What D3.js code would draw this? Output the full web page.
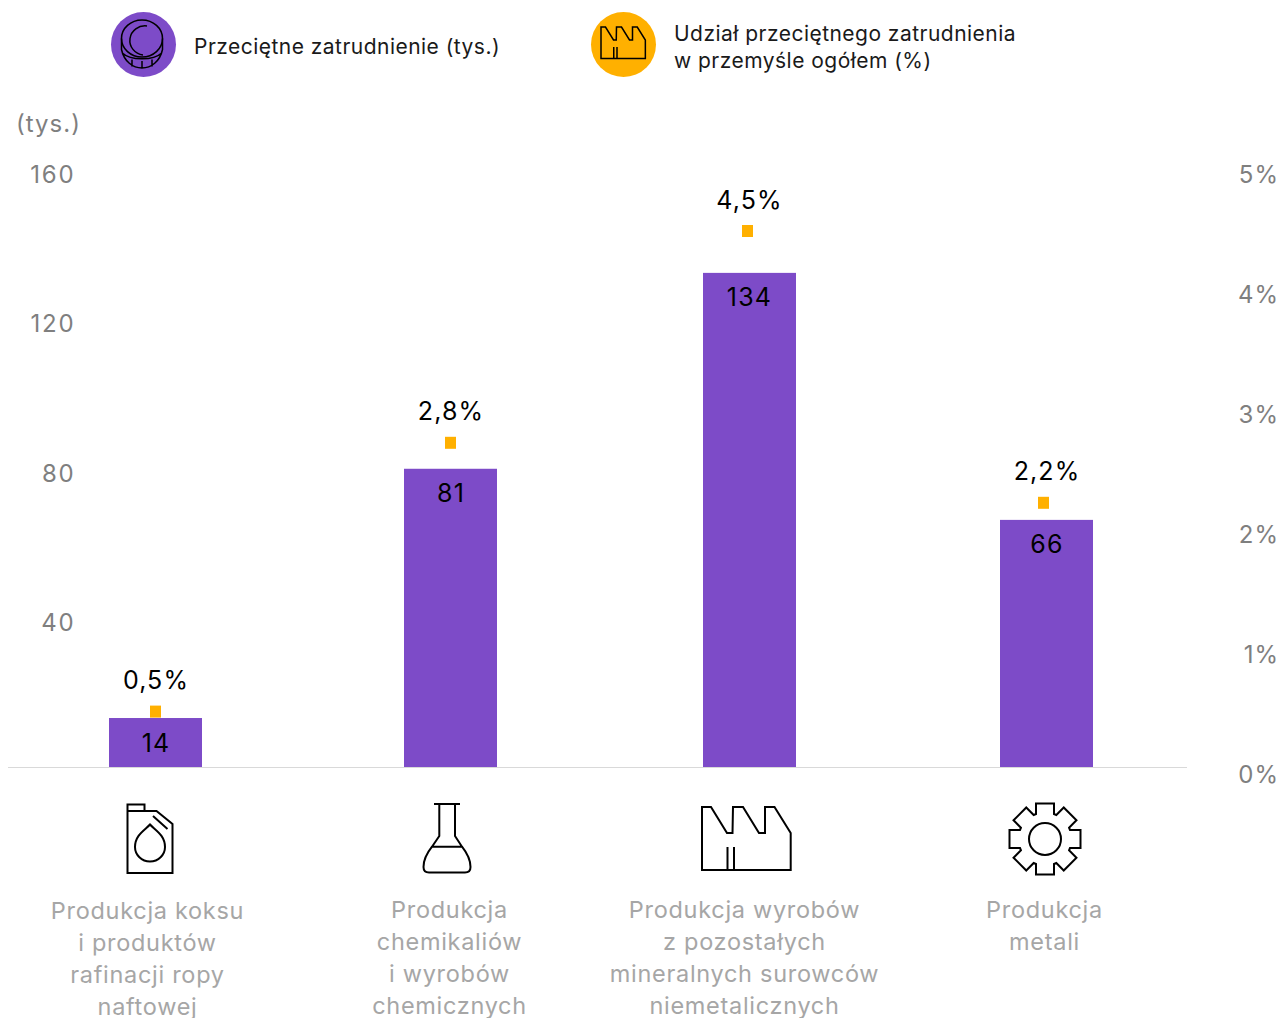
<!DOCTYPE html>
<html lang="pl">
	<head>
		<meta charset="utf-8">
		<title>Przeciętne zatrudnienie</title>
		<script src="https://cdn.jsdelivr.net/npm/d3@7"></script>
		<style type="text/css">
			html, body { margin: 0; padding: 0; background: #fff; }
			svg { display: block; }
			text { font-family: Inter, sans-serif; }
		</style>
	</head>
	<body>
		<div id="chart"></div>
		<script type="text/javascript">
			// data
			var categories = ["koks", "chemikalia", "mineraly", "metale"];
			var categoryLines = [
				["Produkcja koksu", "i produktów", "rafinacji ropy", "naftowej"],
				["Produkcja", "chemikaliów", "i wyrobów", "chemicznych"],
				["Produkcja wyrobów", "z pozostałych", "mineralnych surowców", "niemetalicznych"],
				["Produkcja", "metali"]
			];
			var employment = [14.2, 81, 133.5, 67.3];
			var employmentLabels = ["14", "81", "134", "66"];
			var share = [0.52, 2.76, 4.525, 2.26];
			var shareLabels = ["0,5%", "2,8%", "4,5%", "2,2%"];
			var leftTicks = [40, 80, 120, 160];
			var rightTicks = [0, 1, 2, 3, 4, 5];

			var w = 1281, h = 1018;
			var baseY = 767;
			var purple = "#7d4bc8", orange = "#ffb000";

			var svg = d3.select("#chart").append("svg")
				.attr("width", w)
				.attr("height", h);

			//scales
			var xBar = d3.scaleOrdinal().domain(categories).range([109, 404, 703, 1000]);
			var xValue = d3.scaleOrdinal().domain(categories).range([155.5, 450.5, 749, 1046.5]);
			var xMarker = d3.scaleOrdinal().domain(categories).range([155.5, 450.5, 747.5, 1043.5]);
			var xIcon = d3.scaleOrdinal().domain(categories).range([150, 447, 746, 1045]);
			var xLabel = d3.scaleOrdinal().domain(categories).range([147.5, 449.5, 744.5, 1044.5]);
			var yLeft = d3.scaleLinear().domain([0, 160]).range([771, 174]);
			var yRight = d3.scaleLinear().domain([0, 5]).range([774, 174]);
			var barWidth = 93;

			// axes, only the labels are visible
			var leftAxis = d3.axisLeft(yLeft).tickValues(leftTicks).tickSize(0).tickPadding(0);
			var rightAxis = d3.axisLeft(yRight).tickValues(rightTicks).tickSize(0).tickPadding(0)
				.tickFormat(function(d) { return d + "%"; });

			svg.append("g").attr("class", "axis left").attr("transform", "translate(75.5,0)").call(leftAxis);
			svg.append("g").attr("class", "axis right").attr("transform", "translate(1279,0)").call(rightAxis);
			svg.selectAll(".axis path").remove();
			svg.selectAll(".axis text")
				.attr("font-size", "24px")
				.attr("dy", "0.36em")
				.attr("fill", "#7f7f7f")
				.style("font-family", "Inter, sans-serif");
			svg.selectAll(".left text").attr("letter-spacing", "1.8px");
			svg.selectAll(".right text").attr("letter-spacing", "1px");

			svg.append("text")
				.text("(tys.)")
				.attr("x", 16)
				.attr("y", 132)
				.attr("font-size", "24px")
				.attr("letter-spacing", "1px")
				.attr("fill", "#7f7f7f");

			// bars
			svg.selectAll("rect.bar")
				.data(employment)
				.enter()
				.append("rect")
				.attr("class", "bar")
				.attr("x", function(d, i) { return xBar(categories[i]); })
				.attr("y", function(d) { return yLeft(d); })
				.attr("width", barWidth)
				.attr("height", function(d) { return baseY - yLeft(d); })
				.attr("fill", purple);

			svg.append("line")
				.attr("x1", 8).attr("x2", 1187)
				.attr("y1", 767.5).attr("y2", 767.5)
				.attr("stroke", "#d9d9d9")
				.attr("stroke-width", 1);

			svg.selectAll("text.barLabel")
				.data(employmentLabels)
				.enter()
				.append("text")
				.attr("class", "barLabel")
				.text(function(d) { return d; })
				.attr("text-anchor", "middle")
				.attr("x", function(d, i) { return xValue(categories[i]) + 0.5; })
				.attr("y", function(d, i) { return yLeft(employment[i]) + 33.5; })
				.attr("font-size", "25px")
				.attr("letter-spacing", "1.2px")
				.attr("fill", "#000");

			// share markers
			svg.selectAll("rect.marker")
				.data(share)
				.enter()
				.append("rect")
				.attr("class", "marker")
				.attr("x", function(d, i) { return xMarker(categories[i]) - 5.5; })
				.attr("y", function(d) { return yRight(d) - 6; })
				.attr("width", 11)
				.attr("height", 12)
				.attr("fill", orange);

			svg.selectAll("text.shareLabel")
				.data(shareLabels)
				.enter()
				.append("text")
				.attr("class", "shareLabel")
				.text(function(d) { return d; })
				.attr("text-anchor", "middle")
				.attr("x", function(d, i) { return xValue(categories[i]) + 0.5; })
				.attr("y", function(d, i) { return yRight(share[i]) - 22.5; })
				.attr("font-size", "25px")
				.attr("letter-spacing", "1.1px")
				.attr("fill", "#000");

			// category labels
			categoryLines.forEach(function(lines, i) {
				svg.selectAll("text.cat" + i)
					.data(lines)
					.enter()
					.append("text")
					.attr("class", "cat" + i)
					.text(function(d) { return d; })
					.attr("text-anchor", "middle")
					.attr("x", xLabel(categories[i]))
					.attr("y", function(d, j) { return (i == 0 ? 919 : 918) + j * 32; })
					.attr("font-size", "23.5px")
					.attr("letter-spacing", "0.7px")
					.attr("fill", "#a6a6a6");
			});

			// icons
			function outline(g) {
				return g.attr("fill", "none").attr("stroke", "#000").attr("stroke-width", 2);
			}
			var factoryPath = "M-44,-32H-35L-19,-6H-13.5L-13,-32H-3L13,-6H19V-32H28.5L44.7,-6V31H-44Z" +
				"M-18.5,8V31M-12,8V31";

			var canIcon = outline(svg.append("g").attr("transform", "translate(" + xIcon(categories[0]) + ",839)"));
			canIcon.append("path").attr("d", "M-22.5,-28V34H22.5V-15L6.5,-28H-5.5V-34.5H-22.5V-28H-5.5M3,-23L17.5,-10");
			canIcon.append("path").attr("d", "M0,-14.5C5,-9,15,-4,15,8A15,14.5 0 0 1 -15,8C-15,-4,-5,-9,0,-14.5Z");

			var flaskIcon = outline(svg.append("g").attr("transform", "translate(" + xIcon(categories[1]) + ",839)"));
			flaskIcon.append("path").attr("d", "M-13,-35H13M-7.7,-35V-3L-15,7.7C-20,14,-23.5,21,-23.5,28Q-23.5,33.5,-18,33.5H18Q23.5,33.5,23.5,28C23.5,21,20,14,15,7.7L8,-3V-35M-15,7.7H15");

			var factoryIcon = outline(svg.append("g").attr("transform", "translate(" + xIcon(categories[2]) + ",839)"));
			factoryIcon.append("path").attr("d", factoryPath);

			// gear, 8 teeth
			var gearPts = [];
			d3.range(8).forEach(function(k) {
				var a = k * Math.PI / 4;
				[[-9, -25], [-9, -35.5], [9, -35.5], [9, -25]].forEach(function(p) {
					gearPts.push([p[0] * Math.cos(a) - p[1] * Math.sin(a), p[0] * Math.sin(a) + p[1] * Math.cos(a)]);
				});
			});
			var gearIcon = outline(svg.append("g").attr("transform", "translate(" + xIcon(categories[3]) + ",839)"));
			gearIcon.append("path").attr("d", d3.line()(gearPts) + "Z");
			gearIcon.append("circle").attr("r", 16);

			// legend
			svg.append("circle").attr("cx", 143.5).attr("cy", 44.5).attr("r", 32.5).attr("fill", purple);
			svg.append("circle").attr("cx", 623.5).attr("cy", 44.5).attr("r", 32.5).attr("fill", orange);

			var coin = outline(svg.append("g").attr("transform", "translate(142,38.5)")).attr("stroke-width", 1.5);
			coin.append("ellipse").attr("rx", 20.5).attr("ry", 18.5);
			coin.append("path").attr("d", "M5,-12.5A15,14.5 0 1 0 1,16.5");
			coin.append("path").attr("d", "M-20.5,0V11C-18,23,-9,29.5,0,29.5C9,29.5,18,23,20.5,11V0M-19,15C-12,22,12,22,19,15M-10,21V28M0,22.5V29.5M10,21V28");

			var legendFactory = outline(svg.append("g").attr("transform", "translate(623,43) scale(0.5)"));
			legendFactory.append("path").attr("d", factoryPath).attr("stroke-width", 3);

			var legendText = [
				{ t: "Przeciętne zatrudnienie (tys.)", x: 194, y: 54 },
				{ t: "Udział przeciętnego zatrudnienia", x: 674, y: 41 },
				{ t: "w przemyśle ogółem (%)", x: 674, y: 68 }
			];
			svg.selectAll("text.legend")
				.data(legendText)
				.enter()
				.append("text")
				.attr("class", "legend")
				.text(function(d) { return d.t; })
				.attr("x", function(d) { return d.x; })
				.attr("y", function(d) { return d.y; })
				.attr("font-size", "21px")
				.attr("letter-spacing", "0.47px")
				.attr("fill", "#1a1a1a");
		</script>
	</body>
</html>
